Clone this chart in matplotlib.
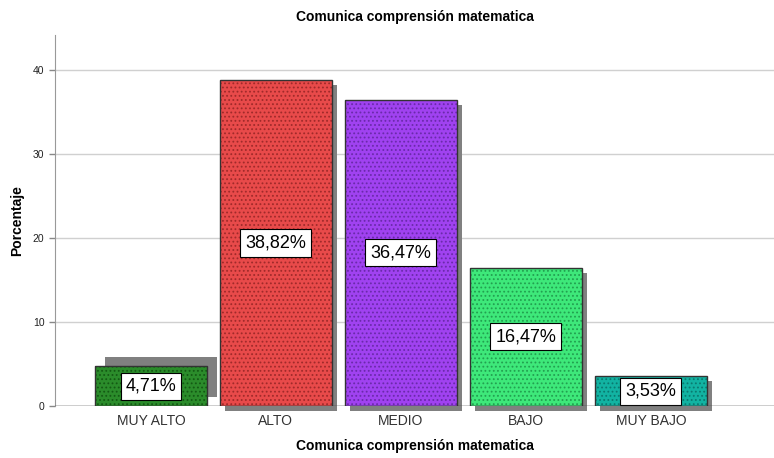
import matplotlib.pyplot as plt

plt.rcParams['font.family'] = ['Liberation Sans', 'DejaVu Sans']
plt.rcParams['hatch.linewidth'] = 0.8

# Data
categories = ["MUY ALTO", "ALTO", "MEDIO", "BAJO", "MUY BAJO"]
values = [4.71, 38.82, 36.47, 16.47, 3.53]
colors = ["#2b8c2b", "#e84a4a", "#a042f0", "#3ee87a", "#12b3a2"]
hatch_colors = ["#145a14", "#a02a2a", "#6a2aaa", "#22a050", "#0a7a70"]

fig = plt.figure(figsize=(7.74, 4.58), dpi=100)
ax = fig.add_axes([0.071, 0.1135, 0.929, 0.8101])

x = list(range(len(categories)))
width = 0.9

# Shadows (SPSS style), the first one is drawn shifted up
for i, v in enumerate(values):
    if i == 0:
        ax.bar(i + 0.08, v, width, bottom=1.07, color="#808080", zorder=1, clip_on=False)
    else:
        ax.bar(i + 0.04, v, width, bottom=-0.6, color="#808080", zorder=1, clip_on=False)

# Bars with dotted pattern
for i, v in enumerate(values):
    ax.bar(i, v, width, color=colors[i], edgecolor=hatch_colors[i], hatch="....",
           linewidth=0, zorder=2)
    ax.bar(i, v, width, fill=False, edgecolor="#333333", linewidth=1, zorder=3)
    lbl = ("%.2f%%" % v).replace(".", ",")
    ax.text(i, v / 2, lbl, ha="center", va="center", fontsize=13, zorder=4,
            bbox=dict(boxstyle="square,pad=0.28", facecolor="white", edgecolor="black", linewidth=0.8))

ax.set_xlim(-0.768, 4.984)
ax.set_ylim(0, 44.17)
ax.set_yticks([0, 10, 20, 30, 40])
ax.yaxis.grid(True, color="#d0d0d0", linewidth=1)
ax.set_axisbelow(True)
ax.axhline(0, color="#333333", linewidth=1, zorder=5)

ax.set_xticks(x)
ax.set_xticklabels(categories, fontsize=10, color="#333333")
ax.tick_params(axis="x", length=0, pad=6)
ax.tick_params(axis="y", labelsize=7.5, colors="#888888", labelcolor="#222222", length=4, width=1)

for s in ["top", "right", "bottom"]:
    ax.spines[s].set_visible(False)
ax.spines["left"].set_color("#999999")

ax.set_title("Comunica comprensión matematica", fontsize=10, fontweight="bold", pad=10)
ax.set_xlabel("Comunica comprensión matematica", fontsize=10, fontweight="bold", labelpad=8)
ax.set_ylabel("Porcentaje", fontsize=10, fontweight="bold", labelpad=6)

fig.savefig("out.png", dpi=100)
